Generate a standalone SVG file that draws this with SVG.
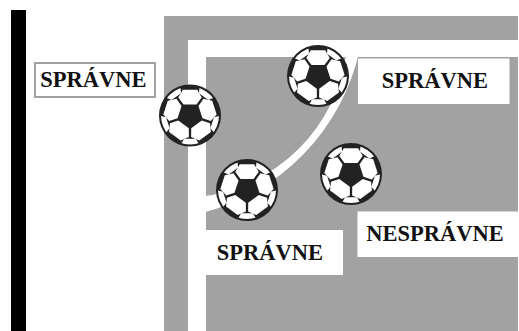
<svg xmlns="http://www.w3.org/2000/svg" xmlns:xlink="http://www.w3.org/1999/xlink" width="519" height="331" viewBox="0 0 519 331">
  <style>
    .lbl { font-family: "Liberation Serif", "Times New Roman", serif; font-weight: bold; font-size: 22.5px; fill: #111; text-anchor: middle; }
    .box { fill: #fff; }
    .patch { fill: #fff; }
  </style>
  <defs>
    <clipPath id="ballClip"><circle cx="0" cy="0" r="29"/></clipPath>
    <g id="ball">
      <circle cx="0" cy="0" r="31" fill="#222"/>
      <g class="patch">
        <polygon points="-6.5,-11 6.5,-11 11.7,-18 7.2,-25.7 -7.2,-25.7 -11.7,-18"/>
        <polygon points="-6.5,-11 6.5,-11 11.7,-18 7.2,-25.7 -7.2,-25.7 -11.7,-18" transform="rotate(72)"/>
        <polygon points="-6.5,-11 6.5,-11 11.7,-18 7.2,-25.7 -7.2,-25.7 -11.7,-18" transform="rotate(144)"/>
        <polygon points="-6.5,-11 6.5,-11 11.7,-18 7.2,-25.7 -7.2,-25.7 -11.7,-18" transform="rotate(216)"/>
        <polygon points="-6.5,-11 6.5,-11 11.7,-18 7.2,-25.7 -7.2,-25.7 -11.7,-18" transform="rotate(288)"/>
      </g>
      <g class="patch" clip-path="url(#ballClip)">
        <polygon points="-5.8,-23.3 5.8,-23.3 10.5,-31 -10.5,-31" transform="rotate(36)"/>
        <polygon points="-5.8,-23.3 5.8,-23.3 10.5,-31 -10.5,-31" transform="rotate(108)"/>
        <polygon points="-5.8,-23.3 5.8,-23.3 10.5,-31 -10.5,-31" transform="rotate(180)"/>
        <polygon points="-5.8,-23.3 5.8,-23.3 10.5,-31 -10.5,-31" transform="rotate(252)"/>
        <polygon points="-5.8,-23.3 5.8,-23.3 10.5,-31 -10.5,-31" transform="rotate(324)"/>
      </g>
    </g>
  </defs>

  <rect width="519" height="331" fill="#fff"/>

  <g id="field">
    <rect x="11" y="10" width="15" height="321" fill="#000"/>
    <rect x="164" y="16" width="354" height="315" fill="#a2a2a2"/>
    <rect x="188" y="40" width="330" height="17" fill="#fff"/>
    <rect x="188" y="40" width="18" height="291" fill="#fff"/>
    <path d="M 346.8 50 A 168 168 0 0 1 200 196.8 L 200 213.6 A 216.4 216.4 0 0 0 359.6 50 Z" fill="#fff"/>
  </g>

  <g id="connectors"/>

  <g id="label-left">
    <rect x="35" y="63" width="120" height="34" fill="#fff" stroke="#a2a2a2" stroke-width="2"/>
    <text class="lbl" x="93.5" y="87.3">SPRÁVNE</text>
  </g>
  <g id="label-top-right">
    <rect class="box" x="358" y="58.5" width="151.5" height="45.5"/>
    <text class="lbl" x="435" y="88.3">SPRÁVNE</text>
  </g>
  <g id="label-bottom">
    <rect class="box" x="206" y="230" width="137" height="45"/>
    <text class="lbl" x="270" y="260">SPRÁVNE</text>
  </g>
  <g id="label-wrong">
    <rect class="box" x="357.5" y="211.5" width="161.5" height="45.5"/>
    <text class="lbl" x="435" y="240.7">NESPRÁVNE</text>
  </g>

  <g id="ball-1"><use xlink:href="#ball" href="#ball" transform="translate(190,115.5)"/></g>
  <g id="ball-2"><use xlink:href="#ball" href="#ball" transform="translate(318,76)"/></g>
  <g id="ball-3"><use xlink:href="#ball" href="#ball" transform="translate(247,190)"/></g>
  <g id="ball-4"><use xlink:href="#ball" href="#ball" transform="translate(351,174)"/></g>
</svg>
